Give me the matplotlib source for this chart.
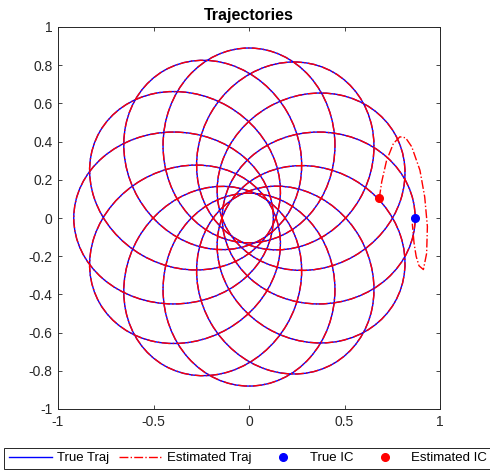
import matplotlib
matplotlib.use('Agg')
import matplotlib.pyplot as plt
import matplotlib.patches as mpatches
from matplotlib.lines import Line2D

plt.rcParams['font.family'] = ['Liberation Sans', 'DejaVu Sans']

# loops of the trajectory:
# centre, length along the radius, width across it, direction of the loop (deg)
loop_cx = [0.365, 0.325, 0.19, 0.0, -0.19, -0.335, -0.395, -0.335, -0.19, 0.0, 0.19, 0.325]
loop_cy = [0.0, 0.19, 0.325, 0.38, 0.33, 0.195, 0.0, -0.19, -0.33, -0.375, -0.325, -0.19]
loop_len = [1.01, 1.01, 1.01, 1.02, 1.02, 1.03, 1.045, 1.03, 1.02, 1.01, 1.01, 1.01]
loop_wid = [0.90, 0.90, 0.90, 0.90, 0.90, 0.90, 0.90, 0.90, 0.90, 0.90, 0.90, 0.90]
loop_dir = [0, 30, 60, 90, 120, 150, 180, 210, 240, 270, 300, 330]

# estimated trajectory start-up, before it settles on the true one
est_start_x = [0.682, 0.695, 0.72, 0.756, 0.79, 0.82, 0.852, 0.895, 0.92, 0.934,
               0.93, 0.913, 0.89, 0.875, 0.864, 0.855]
est_start_y = [0.103, 0.19, 0.30, 0.39, 0.425, 0.42, 0.373, 0.25, 0.11, -0.045,
               -0.185, -0.27, -0.25, -0.2, -0.13, -0.03]

true_ic = (0.87, 0.0)
est_ic = (0.682, 0.103)

dark = (0.15, 0.15, 0.15)

fig = plt.figure(figsize=(4.9, 4.71), dpi=100)
ax = fig.add_axes([58 / 490, 62 / 471, 382 / 490, 382 / 471])

for cx, cy, w, h, a in zip(loop_cx, loop_cy, loop_len, loop_wid, loop_dir):
    ax.add_patch(mpatches.Ellipse((cx, cy), w, h, angle=a, fill=False,
                                  edgecolor='b', linewidth=1.0, zorder=2))
for cx, cy, w, h, a in zip(loop_cx, loop_cy, loop_len, loop_wid, loop_dir):
    ax.add_patch(mpatches.Ellipse((cx, cy), w, h, angle=a, fill=False,
                                  edgecolor='r', linewidth=1.0, linestyle='-.', zorder=3))

ax.plot(est_start_x, est_start_y, color='r', linestyle='-.', linewidth=1.0, zorder=3)
ax.plot([true_ic[0]], [true_ic[1]], 'o', color='b', markersize=5.5, zorder=4)
ax.plot([est_ic[0]], [est_ic[1]], 'o', color='r', markersize=5.5, zorder=4)

ax.set_xlim(-1, 1)
ax.set_ylim(-1, 1)
ax.set_xticks([-1, -0.5, 0, 0.5, 1])
ax.set_xticklabels(['-1', '-0.5', '0', '0.5', '1'])
ax.set_yticks([-1, -0.8, -0.6, -0.4, -0.2, 0, 0.2, 0.4, 0.6, 0.8, 1])
ax.set_yticklabels(['-1', '-0.8', '-0.6', '-0.4', '-0.2', '0', '0.2', '0.4', '0.6', '0.8', '1'])
ax.tick_params(direction='in', length=3, width=0.6, top=True, right=True,
               labelsize=10, colors=dark, pad=4)
for s in ax.spines.values():
    s.set_color(dark)
    s.set_linewidth(0.7)
ax.set_title('Trajectories', fontsize=11.5, fontweight='bold', pad=5)

handles = [
    Line2D([], [], color='b', linewidth=1.0, label='True Traj'),
    Line2D([], [], color='r', linewidth=1.0, linestyle='-.', label='Estimated Traj'),
    Line2D([], [], color='b', marker='o', linestyle='none', markersize=5.5, label='True IC'),
    Line2D([], [], color='r', marker='o', linestyle='none', markersize=5.5, label='Estimated IC'),
]
leg = fig.legend(handles=handles, ncol=4, loc='lower left',
                 bbox_to_anchor=(4 / 490, 2 / 471), fontsize=9.5, frameon=True,
                 fancybox=False, edgecolor=dark, framealpha=1, borderpad=0.35,
                 handlelength=3.3, handletextpad=0.35, columnspacing=0.75, borderaxespad=0)
leg.get_frame().set_linewidth(0.7)

fig.savefig('out.png', dpi=100)
